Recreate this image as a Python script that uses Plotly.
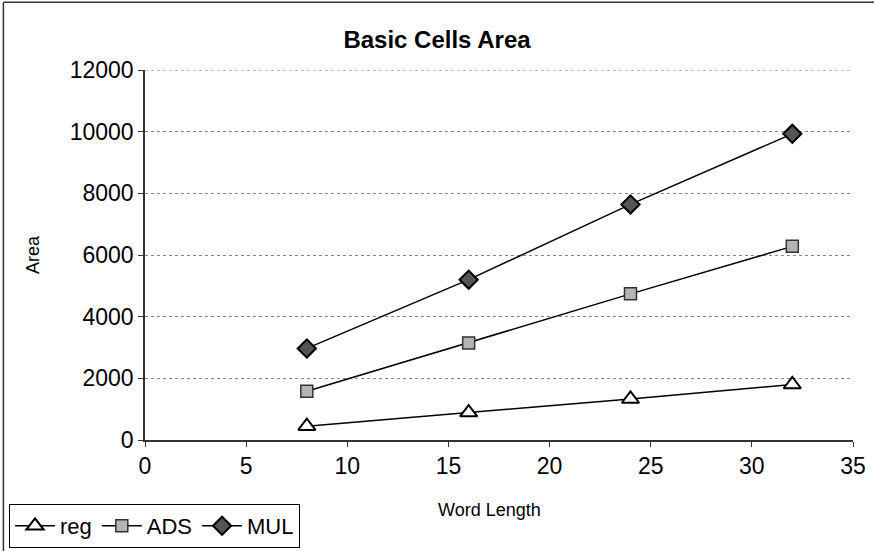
import plotly.graph_objects as go

# Word length (bits) and cell area per basic cell type
word_length = [8, 16, 24, 32]
reg_area = [450, 890, 1330, 1800]
ads_area = [1580, 3150, 4740, 6280]
mul_area = [2970, 5200, 7640, 9930]

x_ticks = [0, 5, 10, 15, 20, 25, 30, 35]
y_ticks = [0, 2000, 4000, 6000, 8000, 10000, 12000]

FONT = "Liberation Sans, Arial, sans-serif"
W, H = 874, 551

fig = go.Figure()

fig.add_trace(go.Scatter(
    x=word_length, y=reg_area, name="reg", mode="lines+markers",
    line=dict(color="black", width=1.5),
    marker=dict(symbol="triangle-up", size=15, color="white",
                line=dict(color="black", width=2)),
))
fig.add_trace(go.Scatter(
    x=word_length, y=ads_area, name="ADS", mode="lines+markers",
    line=dict(color="black", width=1.5),
    marker=dict(symbol="square", size=12, color="#b4b4b4",
                line=dict(color="#333333", width=1.5)),
))
fig.add_trace(go.Scatter(
    x=word_length, y=mul_area, name="MUL", mode="lines+markers",
    line=dict(color="black", width=1.5),
    marker=dict(symbol="diamond", size=14, color="#555555",
                line=dict(color="black", width=2)),
))

# dotted gridline along the top of the value range
fig.add_shape(type="line", xref="paper", yref="y",
              x0=0, x1=1, y0=y_ticks[-1], y1=y_ticks[-1],
              line=dict(color="#888888", width=1, dash="dot"))

# outer chart frame (top and left edges)
fig.add_shape(type="line", xref="paper", yref="paper",
              x0=-0.2, x1=1.03, y0=1.183, y1=1.183,
              line=dict(color="#333333", width=1.5))
fig.add_shape(type="line", xref="paper", yref="paper",
              x0=-0.2, x1=-0.2, y0=1.183, y1=-0.3,
              line=dict(color="#333333", width=1.5))

# x-axis title placed below the tick labels
fig.add_annotation(text="Word Length", xref="paper", yref="paper",
                   x=0.486, y=-0.189, xanchor="center", yanchor="middle",
                   showarrow=False, font=dict(family=FONT, size=18, color="black"))

fig.update_layout(
    width=W, height=H,
    margin=dict(l=145, r=21, t=70, b=111, autoexpand=False),
    paper_bgcolor="white", plot_bgcolor="white",
    font=dict(family=FONT, color="black", size=24),
    title=dict(text="<b>Basic Cells Area</b>", x=0.5, xanchor="center",
               y=1 - 40 / H, yanchor="middle",
               font=dict(family=FONT, size=24, color="black")),
    showlegend=True,
    legend=dict(orientation="h", xref="container", yref="container",
                x=9 / W, y=1 - 504 / H, xanchor="left", yanchor="top",
                bordercolor="black", borderwidth=1,
                bgcolor="white", font=dict(family=FONT, size=22),
                itemwidth=40, tracegroupgap=0),
)

fig.update_xaxes(
    range=[0, 35], tickvals=x_ticks, ticktext=[str(v) for v in x_ticks],
    showgrid=False, zeroline=False, automargin=False,
    showline=True, linecolor="#333333", linewidth=1.5,
    ticks="outside", ticklen=5, tickcolor="#333333",
    tickfont=dict(family=FONT, size=23),
)
fig.update_yaxes(
    range=[0, 12000], tickvals=y_ticks, ticktext=[str(v) for v in y_ticks],
    showgrid=True, gridcolor="#888888", griddash="dot", gridwidth=1,
    zeroline=False, automargin=True,
    showline=True, linecolor="#333333", linewidth=1.5,
    ticks="outside", ticklen=5, tickcolor="#333333",
    tickfont=dict(family=FONT, size=23),
    title=dict(text="Area", font=dict(family=FONT, size=18), standoff=25),
)

fig.write_html("out.html")
